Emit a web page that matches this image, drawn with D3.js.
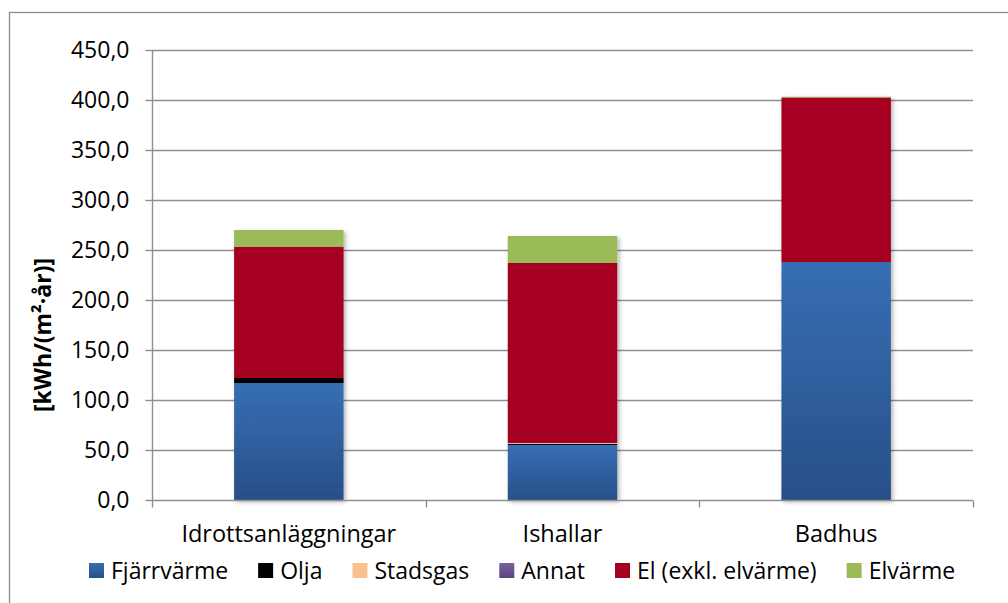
<!DOCTYPE html>
<html>
<head>
<meta charset="utf-8">
<script src="https://cdn.jsdelivr.net/npm/d3@7"></script>
<style>
  html, body { margin: 0; padding: 0; background: #fff; }
  svg { display: block; font-family: "Open Sans", sans-serif; }
</style>
</head>
<body>
<svg id="chart" width="1008" height="603"></svg>
<script>
// Specific energy use per building category, kWh/(m²·år)
const categories = ["Idrottsanläggningar", "Ishallar", "Badhus"];
const seriesNames = ["Fjärrvärme", "Olja", "Stadsgas", "Annat", "El (exkl. elvärme)", "Elvärme"];
const fjarrvarme = [117, 55, 238];
const olja = [5, 1.2, 0];
const stadsgas = [0, 0.8, 0];
const annat = [0, 0, 0];
const el = [131.3, 180, 164.5];
const elvarme = [16.7, 27, 0.8];
const yTicks = [0, 50, 100, 150, 200, 250, 300, 350, 400, 450];
const yTitle = "[kWh/(m²·år)]";

const seriesValues = [fjarrvarme, olja, stadsgas, annat, el, elvarme];
const seriesFill = ["url(#gBlue)", "#000000", "#FAC090", "url(#gPurple)", "#A50021", "#9BBB59"];

const FS = 23;

const svg = d3.select("#chart");
const defs = svg.append("defs");

function vGrad(id, top, bottom) {
  const g = defs.append("linearGradient").attr("id", id)
    .attr("x1", 0).attr("y1", 0).attr("x2", 0).attr("y2", 1);
  g.append("stop").attr("offset", "0%").attr("stop-color", top);
  g.append("stop").attr("offset", "100%").attr("stop-color", bottom);
}
vGrad("gBlue", "#366FB4", "#284F87");
vGrad("gPurple", "#7D62A3", "#5A437F");

const shadow = defs.append("filter").attr("id", "shadow")
  .attr("x", "-10%").attr("y", "-10%").attr("width", "130%").attr("height", "130%");
shadow.append("feDropShadow").attr("dx", 2).attr("dy", 2).attr("stdDeviation", 2)
  .attr("flood-color", "#000").attr("flood-opacity", 0.3);

// Chart frame
svg.append("rect")
  .attr("x", 9.5).attr("y", 12.5).attr("width", 1010).attr("height", 610)
  .attr("fill", "none").attr("stroke", "#8a8a8a").attr("stroke-width", 1.3);

const plot = { left: 152, right: 973, top: 50, bottom: 500 };

const x = d3.scaleBand().domain(categories)
  .range([plot.left, plot.right]).paddingInner(0.6).paddingOuter(0.3);
const xOuter = d3.scaleBand().domain(categories).range([plot.left, plot.right]);
const y = d3.scaleLinear().domain([0, 450]).range([plot.bottom, plot.top]);

// Horizontal gridlines
svg.append("g").selectAll("line").data(yTicks.slice(1)).join("line")
  .attr("x1", plot.left).attr("x2", plot.right)
  .attr("y1", d => Math.round(y(d)) + 0.5).attr("y2", d => Math.round(y(d)) + 0.5)
  .attr("stroke", "#8f8f8f").attr("stroke-width", 1.4);

// Stacked bars
const rows = categories.map((c, i) => {
  const r = { category: c };
  seriesNames.forEach((s, k) => { r[s] = seriesValues[k][i]; });
  return r;
});
const stack = d3.stack().keys(seriesNames)(rows);

const barGroups = svg.append("g");
categories.forEach((c, i) => {
  const g = barGroups.append("g").attr("filter", "url(#shadow)");
  stack.forEach((layer, k) => {
    const d = layer[i];
    if (d[1] - d[0] <= 0) return;
    g.append("rect")
      .attr("x", x(c)).attr("width", x.bandwidth())
      .attr("y", y(d[1])).attr("height", y(d[0]) - y(d[1]))
      .attr("fill", seriesFill[k]);
  });
});

// Y axis
const yAxis = d3.axisLeft(y).tickValues(yTicks).tickSize(7).tickPadding(16)
  .tickFormat(d => d3.format(".1f")(d).replace(".", ","));
const gy = svg.append("g").attr("transform", `translate(${plot.left + 0.5},0)`).call(yAxis);
gy.select(".domain").attr("stroke", "#8f8f8f").attr("stroke-width", 1.4).attr("d", `M0,${plot.top}V${plot.bottom}`);
gy.selectAll(".tick line").attr("stroke", "#8f8f8f").attr("stroke-width", 1.4);
gy.selectAll(".tick text").attr("font-family", "Open Sans").attr("font-size", FS).attr("fill", "#000");

// X axis
const gx = svg.append("g").attr("transform", `translate(0,${plot.bottom + 0.5})`);
gx.append("line").attr("x1", plot.left).attr("x2", plot.right)
  .attr("stroke", "#8f8f8f").attr("stroke-width", 1.4);
const bounds = categories.map(c => xOuter(c)).concat([plot.right]);
gx.selectAll("line.tk").data(bounds).join("line").attr("class", "tk")
  .attr("x1", d => Math.round(d) + 0.5).attr("x2", d => Math.round(d) + 0.5)
  .attr("y1", 0).attr("y2", 7)
  .attr("stroke", "#8f8f8f").attr("stroke-width", 1.4);
gx.selectAll("text").data(categories).join("text")
  .attr("x", d => x(d) + x.bandwidth() / 2).attr("y", 41)
  .attr("text-anchor", "middle").attr("font-size", 23.5).attr("fill", "#000")
  .text(d => d);

// Y axis title
svg.append("text")
  .attr("transform", "translate(51,335) rotate(-90)")
  .attr("text-anchor", "middle").attr("font-size", FS).attr("font-weight", "bold")
  .attr("fill", "#000").text(yTitle);

// Legend
const legend = svg.append("g").attr("transform", "translate(0,571)");
let lx = 89;
seriesNames.forEach((s, k) => {
  const item = legend.append("g");
  item.append("rect").attr("x", lx).attr("y", -8).attr("width", 15).attr("height", 15)
    .attr("fill", seriesFill[k]);
  const t = item.append("text").attr("x", lx + 22).attr("y", 8)
    .attr("font-size", FS).attr("fill", "#000").text(s);
  lx += 22 + t.node().getComputedTextLength() + 30;
});
</script>
</body>
</html>
